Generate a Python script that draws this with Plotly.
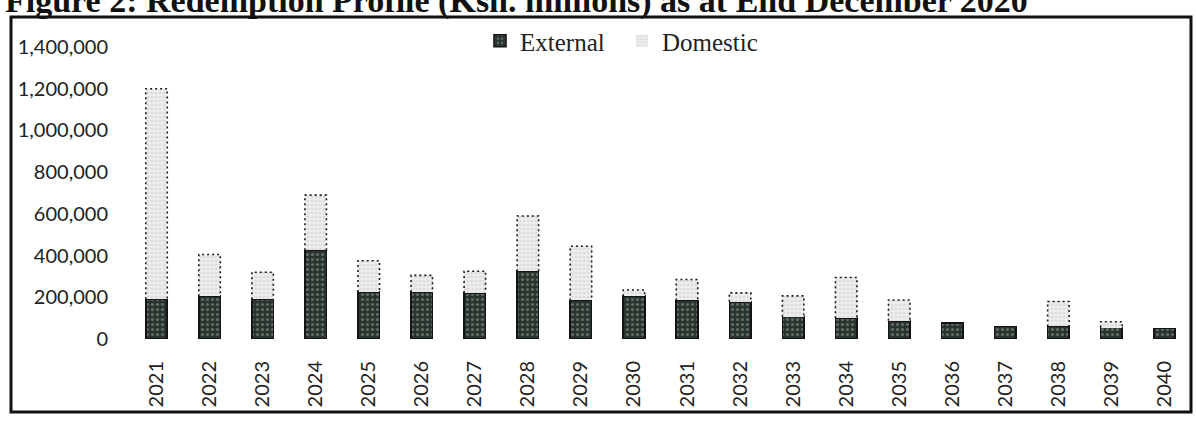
import plotly.graph_objects as go

# Redemption profile, Ksh. millions
years = list(range(2021, 2041))
external = [190000, 205000, 190000, 425000, 225000, 225000, 220000, 325000, 185000, 205000,
            185000, 178000, 107000, 100000, 87000, 77000, 60000, 60000, 55000, 50000]
domestic = [1010000, 200000, 130000, 265000, 150000, 80000, 105000, 265000, 260000, 30000,
            100000, 43000, 100000, 195000, 100000, 0, 0, 120000, 28000, 0]
y_ticks = [0, 200000, 400000, 600000, 800000, 1000000, 1200000, 1400000]
year_labels = [str(y) for y in years]

BAR_W = 0.405
W, H = 1196, 423
ML, MR, MT, MB = 130, 5, 47, 84
PW, PH = W - ML - MR, H - MT - MB


def px_x(x):
    return (x - ML) / PW


def px_y(y):
    return (H - MB - y) / PH


fig = go.Figure()

fig.add_trace(go.Bar(
    x=years, y=external, name="External", width=BAR_W,
    marker=dict(
        color="#2a342e",
        line=dict(color="#141414", width=1.6),
        pattern=dict(shape=".", fgcolor="#95a59b", size=5, solidity=0.3),
    ),
))

fig.add_trace(go.Bar(
    x=years, y=domestic, name="Domestic", width=BAR_W,
    marker=dict(
        color="#ededed",
        line=dict(width=0),
        pattern=dict(shape=".", fgcolor="#c9c9c9", size=4, solidity=0.35),
    ),
))

# dotted outline around each domestic segment (left, top, right sides)
ox, oy = [], []
half = BAR_W / 2
for yr, e, d in zip(years, external, domestic):
    if d > 0:
        ox += [yr - half, yr - half, yr + half, yr + half, None]
        oy += [e, e + d, e + d, e, None]
fig.add_trace(go.Scatter(
    x=ox, y=oy, mode="lines", showlegend=False, hoverinfo="skip",
    line=dict(color="#1a1a1a", width=1.6, dash="2px,3px"),
))

fig.update_layout(
    width=W, height=H,
    margin=dict(l=ML, r=MR, t=MT, b=MB),
    paper_bgcolor="white", plot_bgcolor="white",
    barmode="stack",
    showlegend=True,
    legend=dict(
        orientation="h", x=px_x(480), xanchor="left", y=px_y(41), yanchor="middle",
        font=dict(family="Liberation Serif", size=25, color="#222"),
        bgcolor="rgba(0,0,0,0)", traceorder="normal",
        entrywidth=97, entrywidthmode="pixels",
    ),
    xaxis=dict(
        range=[2020.5, 2040.5], tickmode="array", tickvals=years, ticktext=year_labels,
        tickangle=-90, showgrid=False, zeroline=False, showline=False, ticks="",
        ticklabelstandoff=17,
        tickfont=dict(family="Lato", size=20, color="#222"),
    ),
    yaxis=dict(
        range=[0, 1400000], tickmode="array", tickvals=y_ticks, tickformat=",",
        showgrid=False, zeroline=False, showline=False, ticks="",
        ticklabelstandoff=21,
        tickfont=dict(family="Lato", size=20, color="#222"),
    ),
    annotations=[dict(
        text="<b>Figure 2: Redemption Profile (Ksh. millions) as at End December 2020</b>",
        xref="paper", yref="paper", x=px_x(1030), xanchor="right",
        y=px_y(22), yanchor="bottom", showarrow=False,
        font=dict(family="Liberation Serif", size=34, color="#111"),
    )],
    shapes=[dict(
        type="rect", xref="paper", yref="paper",
        x0=px_x(11), x1=px_x(1191), y0=px_y(412), y1=px_y(17),
        line=dict(color="#111", width=3), layer="above",
    )],
)

fig.write_html("out.html")
